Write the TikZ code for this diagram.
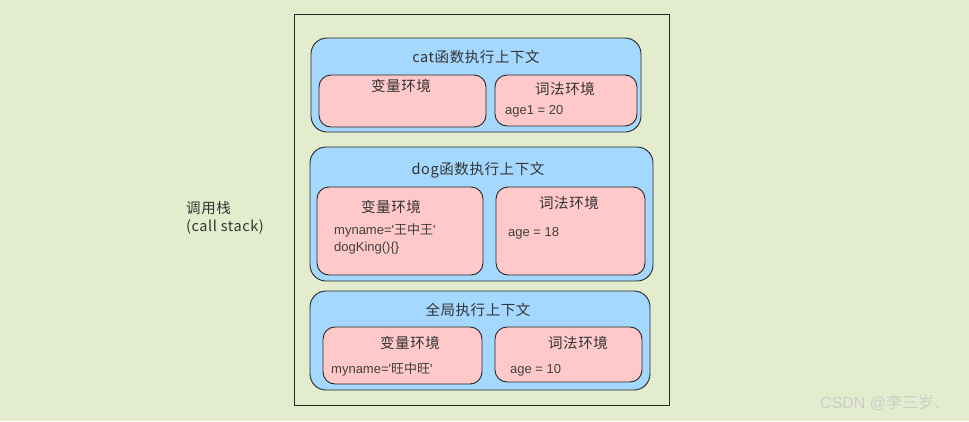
\documentclass[tikz,border=0pt]{standalone}
\usepackage{fontspec}
\setmainfont{Noto Sans CJK SC}
\newfontfamily\latinf{Liberation Sans}
\newfontfamily\cjkf{Noto Sans CJK SC}
\newfontfamily\ttlf[LetterSpace=4]{Noto Sans CJK SC}
\begin{document}
\begin{tikzpicture}[x=1pt,y=-1pt,
  ctx/.style={draw=black!85,line width=0.9pt,fill=blueF,rounded corners=16pt},
  env/.style={draw=black!85,line width=0.9pt,fill=pinkF,rounded corners=12pt},
  ttl/.style={font=\ttlf\fontsize{14.5}{18}\selectfont,text=black!80,inner sep=0pt},
  val/.style={font=\latinf\fontsize{13}{18}\selectfont,text=black!75,inner sep=0pt,anchor=west,align=left}]
\definecolor{bgF}{HTML}{E3EDCD}
\definecolor{blueF}{HTML}{A5D8FF}
\definecolor{pinkF}{HTML}{FFC9C9}
\fill[bgF] (0,0) rectangle (969,421);
\useasboundingbox (0,0) rectangle (969,421);
\draw[black!85,line width=0.8pt] (294,14) rectangle (669,405);
% cat
\draw[ctx] (311,38) rectangle (641,132);
\node[ttl] (catT) at (476,57) {cat函数执行上下文};
\draw[env] (319,75) rectangle (486,127);
\draw[env] (495,75) rectangle (637,126);
\node[ttl] (catV) at (401,86) {变量环境};
\node[ttl] (catL) at (565,89) {词法环境};
\node[val] (catA) at (505,111) {age1 = 20};
% dog
\draw[ctx] (310,147) rectangle (653,281);
\node[ttl] (dogT) at (478,170) {dog函数执行上下文};
\draw[env] (317,187) rectangle (483,275);
\draw[env] (496,187) rectangle (645,275);
\node[ttl] (dogV) at (391,207) {变量环境};
\node[ttl] (dogL) at (569,203) {词法环境};
\node[val] (dogM) at (334,230) {myname='{\cjkf 王中王}'};
\node[val] (dogK) at (334,248) {dogKing()\{\}};
\node[val] (dogA) at (508,233) {age = 18};
% global
\draw[ctx] (310,291) rectangle (650,390);
\node[ttl] (gT) at (478,310) {全局执行上下文};
\draw[env] (323,327) rectangle (482,384);
\draw[env] (495,327) rectangle (642,382);
\node[ttl] (gV) at (410,343) {变量环境};
\node[ttl] (gL) at (578,343) {词法环境};
\node[val] (gM) at (331,369) {myname='{\cjkf 旺中旺}'};
\node[val] (gA) at (510,370) {age = 10};
% label
\node[ttl,anchor=west,align=left] (stack) at (186,218) {调用栈\\(call stack)};
\node[font=\latinf\fontsize{16}{18}\selectfont,text=black!20,inner sep=0pt,anchor=west] (wm) at (820,403) {CSDN @{\cjkf 李三岁、}};
\end{tikzpicture}
\end{document}
